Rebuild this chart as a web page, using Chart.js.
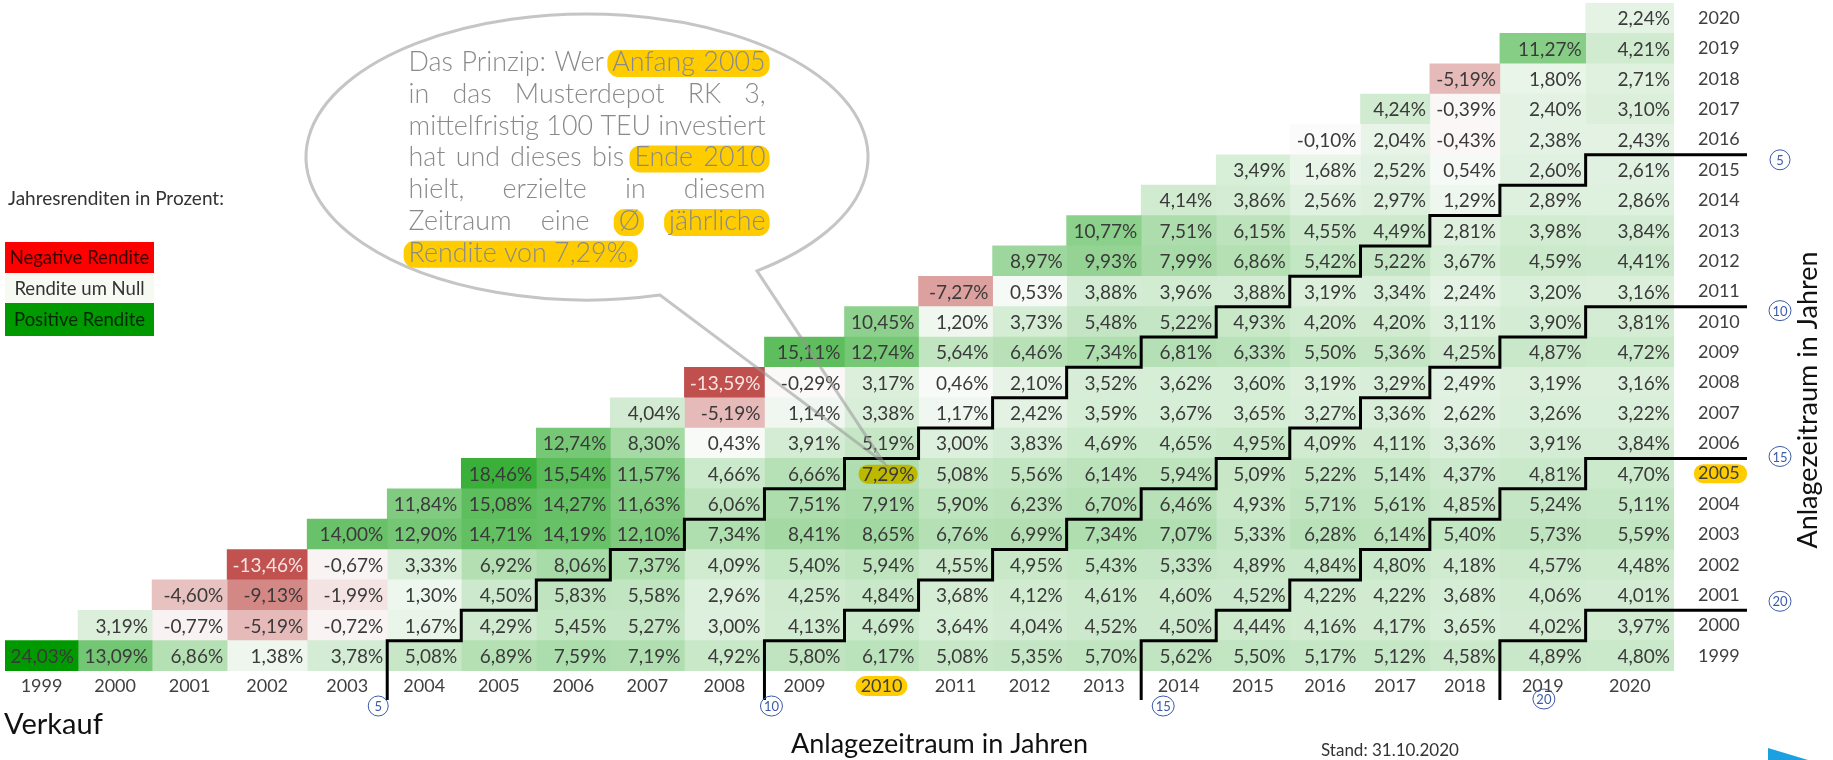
<!DOCTYPE html>
<html>
<head>
<meta charset="utf-8">
<script src="https://cdn.jsdelivr.net/npm/chart.js@4.4.1/dist/chart.umd.min.js"></script>
<style>
  html, body { margin: 0; padding: 0; background: #fff; }
  #wrap { width: 1833px; height: 760px; }
</style>
</head>
<body>
<div id="wrap"><canvas id="triangle" width="1833" height="760"></canvas></div>
<script>
// sell years (columns) and buy years (rows, top to bottom)
const sellYears = ['1999','2000','2001','2002','2003','2004','2005','2006','2007','2008','2009',
                   '2010','2011','2012','2013','2014','2015','2016','2017','2018','2019','2020'];
const buyYears = sellYears.slice().reverse();

// annual returns in %, per buy year, sell year = buy year ... 2020
const buy2020 = [2.24];
const buy2019 = [11.27, 4.21];
const buy2018 = [-5.19, 1.80, 2.71];
const buy2017 = [4.24, -0.39, 2.40, 3.10];
const buy2016 = [-0.10, 2.04, -0.43, 2.38, 2.43];
const buy2015 = [3.49, 1.68, 2.52, 0.54, 2.60, 2.61];
const buy2014 = [4.14, 3.86, 2.56, 2.97, 1.29, 2.89, 2.86];
const buy2013 = [10.77, 7.51, 6.15, 4.55, 4.49, 2.81, 3.98, 3.84];
const buy2012 = [8.97, 9.93, 7.99, 6.86, 5.42, 5.22, 3.67, 4.59, 4.41];
const buy2011 = [-7.27, 0.53, 3.88, 3.96, 3.88, 3.19, 3.34, 2.24, 3.20, 3.16];
const buy2010 = [10.45, 1.20, 3.73, 5.48, 5.22, 4.93, 4.20, 4.20, 3.11, 3.90, 3.81];
const buy2009 = [15.11, 12.74, 5.64, 6.46, 7.34, 6.81, 6.33, 5.50, 5.36, 4.25, 4.87, 4.72];
const buy2008 = [-13.59, -0.29, 3.17, 0.46, 2.10, 3.52, 3.62, 3.60, 3.19, 3.29, 2.49, 3.19, 3.16];
const buy2007 = [4.04, -5.19, 1.14, 3.38, 1.17, 2.42, 3.59, 3.67, 3.65, 3.27, 3.36, 2.62, 3.26, 3.22];
const buy2006 = [12.74, 8.30, 0.43, 3.91, 5.19, 3.00, 3.83, 4.69, 4.65, 4.95, 4.09, 4.11, 3.36, 3.91, 3.84];
const buy2005 = [18.46, 15.54, 11.57, 4.66, 6.66, 7.29, 5.08, 5.56, 6.14, 5.94, 5.09, 5.22, 5.14, 4.37, 4.81, 4.70];
const buy2004 = [11.84, 15.08, 14.27, 11.63, 6.06, 7.51, 7.91, 5.90, 6.23, 6.70, 6.46, 4.93, 5.71, 5.61, 4.85, 5.24, 5.11];
const buy2003 = [14.00, 12.90, 14.71, 14.19, 12.10, 7.34, 8.41, 8.65, 6.76, 6.99, 7.34, 7.07, 5.33, 6.28, 6.14, 5.40, 5.73, 5.59];
const buy2002 = [-13.46, -0.67, 3.33, 6.92, 8.06, 7.37, 4.09, 5.40, 5.94, 4.55, 4.95, 5.43, 5.33, 4.89, 4.84, 4.80, 4.18, 4.57, 4.48];
const buy2001 = [-4.60, -9.13, -1.99, 1.30, 4.50, 5.83, 5.58, 2.96, 4.25, 4.84, 3.68, 4.12, 4.61, 4.60, 4.52, 4.22, 4.22, 3.68, 4.06, 4.01];
const buy2000 = [3.19, -0.77, -5.19, -0.72, 1.67, 4.29, 5.45, 5.27, 3.00, 4.13, 4.69, 3.64, 4.04, 4.52, 4.50, 4.44, 4.16, 4.17, 3.65, 4.02, 3.97];
const buy1999 = [24.03, 13.09, 6.86, 1.38, 3.78, 5.08, 6.89, 7.59, 7.19, 4.92, 5.80, 6.17, 5.08, 5.35, 5.70, 5.62, 5.50, 5.17, 5.12, 4.58, 4.89, 4.80];

const rowReturns = [buy2020, buy2019, buy2018, buy2017, buy2016, buy2015, buy2014, buy2013, buy2012, buy2011, buy2010,
                    buy2009, buy2008, buy2007, buy2006, buy2005, buy2004, buy2003, buy2002, buy2001, buy2000, buy1999];

const periods = [5, 10, 15, 20];   // holding period borders
const markBuy = '2005', markSell = '2010';

// layout: the sheet columns are not all equally wide
const colWidths = [73, 74, 75, 80, 80, 74, 75, 74, 74, 80, 80, 74, 74, 74, 74.5, 75, 73.5, 70.7, 69.3, 70, 85.7, 88.3];
const edges = [0];
colWidths.forEach(w => edges.push(edges[edges.length - 1] + w));
const centers = colWidths.map((w, i) => edges[i] + w / 2);

const allVals = rowReturns.flat();
const maxV = Math.max(...allVals), minV = Math.min(...allVals);

function cellColor(v) {
  const mid = [252, 252, 252], hi = [0, 153, 0], lo = [192, 80, 77];
  const t = v >= 0 ? v / maxV : v / minV;
  const to = v >= 0 ? hi : lo;
  const c = mid.map((m, i) => Math.round(m + (to[i] - m) * t));
  return `rgb(${c[0]},${c[1]},${c[2]})`;
}
const fmt = v => v.toFixed(2).replace('.', ',') + '%';

function rrect(ctx, x, y, w, h, r) {
  ctx.beginPath();
  ctx.roundRect(x, y, w, h, r);
  ctx.fill();
}

const datasets = sellYears.map((sy, c) => {
  const vals = buyYears.map((by, r) => {
    const k = c - (Number(by) - 1999);
    return k >= 0 ? rowReturns[r][k] : null;
  });
  return {
    label: sy,
    data: vals.map(v => v == null ? null : [edges[c], edges[c + 1]]),
    returns: vals,
    backgroundColor: vals.map(v => v == null ? 'rgba(0,0,0,0)' : cellColor(v)),
    borderWidth: 0,
    grouped: false,
    barPercentage: 1,
    categoryPercentage: 1
  };
});

const bubbleLines = [
  { words: ['Das', 'Prinzip:', 'Wer', 'Anfang', '2005'], hl: [0, 0, 0, 1, 1], justify: true },
  { words: ['in', 'das', 'Musterdepot', 'RK', '3,'], hl: [0, 0, 0, 0, 0], justify: true },
  { words: ['mittelfristig', '100', 'TEU', 'investiert'], hl: [0, 0, 0, 0], justify: true },
  { words: ['hat', 'und', 'dieses', 'bis', 'Ende', '2010'], hl: [0, 0, 0, 0, 1, 1], justify: true },
  { words: ['hielt,', 'erzielte', 'in', 'diesem'], hl: [0, 0, 0, 0], justify: true },
  { words: ['Zeitraum', 'eine', 'Ø', 'jährliche'], hl: [0, 0, 1, 2], justify: true },
  { words: ['Rendite', 'von', '7,29%.'], hl: [1, 1, 1], justify: false }
];

const rowGeom = (yScale, by) => {
  const r = buyYears.indexOf(String(by));
  const h = yScale.getPixelForValue(1) - yScale.getPixelForValue(0);
  const yc = yScale.getPixelForValue(r);
  return { top: yc - h / 2, bottom: yc + h / 2, mid: yc };
};

const trianglePlugin = {
  id: 'triangle',
  beforeDraw(chart) {
    const { ctx, scales: { x, y } } = chart;
    ctx.save();
    ctx.fillStyle = '#ffcc00';
    const hx = x.getPixelForValue(centers[sellYears.indexOf(markSell)]);
    rrect(ctx, hx - 26, x.top + 5, 52, 20, 10);
    const hy = rowGeom(y, markBuy).mid;
    rrect(ctx, y.left + 20, hy - 9.5, 53, 19, 9);
    ctx.restore();
  },
  afterDatasetsDraw(chart) {
    const { ctx, chartArea, scales: { x, y } } = chart;
    ctx.save();
    ctx.font = '19px Lato';
    ctx.textAlign = 'right';
    ctx.textBaseline = 'middle';
    chart.data.datasets.forEach((ds, i) => {
      const meta = chart.getDatasetMeta(i);
      meta.data.forEach((el, j) => {
        const v = ds.returns[j];
        if (v == null) return;
        const right = Math.max(el.x, el.base);
        if (ds.label === markSell && buyYears[j] === markBuy) {
          ctx.fillStyle = '#bdb800';
          rrect(ctx, right - 60, el.y - 9, 59, 19, 9);
        }
        ctx.fillStyle = v < -10 ? '#f7e4e4' : '#3a3a3a';
        ctx.fillText(fmt(v), right - 4, el.y + 1);
      });
    });

    // holding period staircase borders
    ctx.strokeStyle = '#000';
    ctx.lineWidth = 3;
    ctx.lineJoin = 'miter';
    periods.forEach(p => {
      ctx.beginPath();
      let prevTop = null;
      for (let b = 1999; b <= 2020 - p; b++) {
        const xl = x.getPixelForValue(edges[b - 1999 + p]);
        const g = rowGeom(y, b);
        if (b === 1999) ctx.moveTo(xl, chartArea.bottom + 29);
        else ctx.lineTo(xl, prevTop);
        ctx.lineTo(xl, g.top);
        prevTop = g.top;
      }
      ctx.lineTo(chartArea.right + 73, prevTop);
      ctx.stroke();
    });
    ctx.restore();
  },
  afterDraw(chart) {
    const { ctx, chartArea, scales: { x, y } } = chart;
    ctx.save();

    // numbered circles
    const circle = (cx, cy, n) => {
      ctx.beginPath();
      ctx.ellipse(cx, cy, n >= 10 ? 11 : 10, 10, 0, 0, Math.PI * 2);
      ctx.strokeStyle = '#3b5ba8';
      ctx.lineWidth = 1;
      ctx.stroke();
      ctx.fillStyle = '#3b5ba8';
      ctx.font = '13px Lato';
      ctx.textAlign = 'center';
      ctx.textBaseline = 'middle';
      ctx.fillText(String(n), cx, cy + 1);
    };
    const bottomOff = [-9, 7, 22, 44];
    const rightOff = [5, 4, -2, -9];
    periods.forEach((p, i) => {
      const xl = x.getPixelForValue(edges[p]);
      circle(xl + bottomOff[i], chartArea.bottom + (p === 20 ? 28 : 35), p);
      circle(chartArea.right + 106, rowGeom(y, 2020 - p).top + rightOff[i], p);
    });

    // speech bubble
    const tipG = rowGeom(y, markBuy);
    const tipX = x.getPixelForValue(centers[sellYears.indexOf(markSell)]) + 2;
    const tipY = tipG.top + 4;
    ctx.beginPath();
    ctx.ellipse(587, 157, 281, 143, 0, 0.921, 1.308, true);
    ctx.lineTo(tipX, tipY);
    ctx.closePath();
    ctx.strokeStyle = 'rgba(150,150,150,0.55)';
    ctx.lineWidth = 3;
    ctx.stroke();

    const x0 = 408.6, W = 357;
    ctx.font = '300 100px Lato';
    const fs = 100 * W / ctx.measureText(bubbleLines[2].words.join(' ')).width;
    ctx.font = `300 ${fs}px Lato`;
    ctx.textAlign = 'left';
    ctx.textBaseline = 'alphabetic';
    const space = ctx.measureText(' ').width;
    bubbleLines.forEach((ln, li) => {
      const base = 71 + li * 31.8;
      const ws = ln.words.map(w => ctx.measureText(w).width);
      const sum = ws.reduce((a, b) => a + b, 0);
      const gap = ln.justify ? (W - sum) / (ln.words.length - 1) : space;
      const xs = [];
      let cx = x0;
      ws.forEach(w => { xs.push(cx); cx += w + gap; });
      const groups = [...new Set(ln.hl.filter(h => h > 0))];
      ctx.fillStyle = '#ffcc00';
      groups.forEach(g => {
        const idx = ln.hl.map((h, k) => h === g ? k : -1).filter(k => k >= 0);
        const l = xs[idx[0]] - 5, r = xs[idx[idx.length - 1]] + ws[idx[idx.length - 1]] + 4;
        rrect(ctx, l, base - 21, r - l, 27, 11);
      });
      ctx.fillStyle = '#8a8a8a';
      ln.words.forEach((w, k) => ctx.fillText(w, xs[k], base));
    });

    // legend block
    ctx.fillStyle = '#333';
    ctx.font = '19px Lato';
    ctx.fillText('Jahresrenditen in Prozent:', 8, 205);
    const legend = [
      ['Negative Rendite', '#ff0000', '#3a0000', 242, 31],
      ['Rendite um Null', '#f7f9f3', '#333', 273, 30],
      ['Positive Rendite', '#009900', '#002800', 303, 33]
    ];
    ctx.font = '18.5px Lato';
    ctx.textAlign = 'center';
    ctx.textBaseline = 'middle';
    legend.forEach(([t, bg, fg, top, h]) => {
      ctx.fillStyle = bg;
      ctx.fillRect(5, top, 149, h);
      ctx.fillStyle = fg;
      ctx.fillText(t, 79.5, top + h / 2 + 1);
    });

    // axis titles and notes
    ctx.textAlign = 'left';
    ctx.textBaseline = 'alphabetic';
    ctx.fillStyle = '#111';
    ctx.font = '29px Lato';
    ctx.fillText('Verkauf', 4, 734);
    ctx.font = '27px Lato';
    ctx.fillText('Anlagezeitraum in Jahren', 791, 753);
    ctx.save();
    ctx.translate(1817, 400);
    ctx.rotate(-Math.PI / 2);
    ctx.textAlign = 'center';
    ctx.fillText('Anlagezeitraum in Jahren', 0, 0);
    ctx.restore();
    ctx.fillStyle = '#333';
    ctx.font = '17px Lato';
    ctx.fillText('Stand: 31.10.2020', 1321, 756);

    ctx.fillStyle = '#1ba1e2';
    ctx.beginPath();
    ctx.moveTo(1768, 748);
    ctx.lineTo(1808, 760);
    ctx.lineTo(1768, 760);
    ctx.closePath();
    ctx.fill();
    ctx.restore();
  }
};

function draw() {
  Chart.defaults.font.family = 'Lato';
  new Chart(document.getElementById('triangle'), {
    type: 'bar',
    data: { labels: buyYears, datasets },
    options: {
      indexAxis: 'y',
      responsive: false,
      animation: false,
      devicePixelRatio: 1,
      events: [],
      layout: { padding: { left: 5, top: 3, right: 93, bottom: 63 } },
      plugins: { legend: { display: false }, tooltip: { enabled: false } },
      scales: {
        x: {
          type: 'linear',
          min: 0,
          max: edges[edges.length - 1],
          grid: { display: false, drawTicks: false },
          border: { display: false },
          afterBuildTicks: axis => { axis.ticks = centers.map(v => ({ value: v })); },
          afterFit: axis => { axis.paddingLeft = 0; axis.paddingRight = 0; axis.height = 26; },
          ticks: {
            autoSkip: false,
            maxRotation: 0,
            padding: 4,
            color: '#404040',
            font: { size: 18 },
            callback: (value, index) => sellYears[index]
          }
        },
        y: {
          position: 'right',
          grid: { display: false, drawTicks: false },
          border: { display: false },
          afterFit: axis => { axis.paddingTop = 0; axis.paddingBottom = 0; axis.width = 66; },
          ticks: { autoSkip: false, padding: 24, color: '#404040', font: { size: 18 } }
        }
      }
    },
    plugins: [trianglePlugin]
  });
}

Promise.all([document.fonts.load('19px Lato'), document.fonts.load('300 25px Lato')])
  .then(draw, draw);
</script>
</body>
</html>
